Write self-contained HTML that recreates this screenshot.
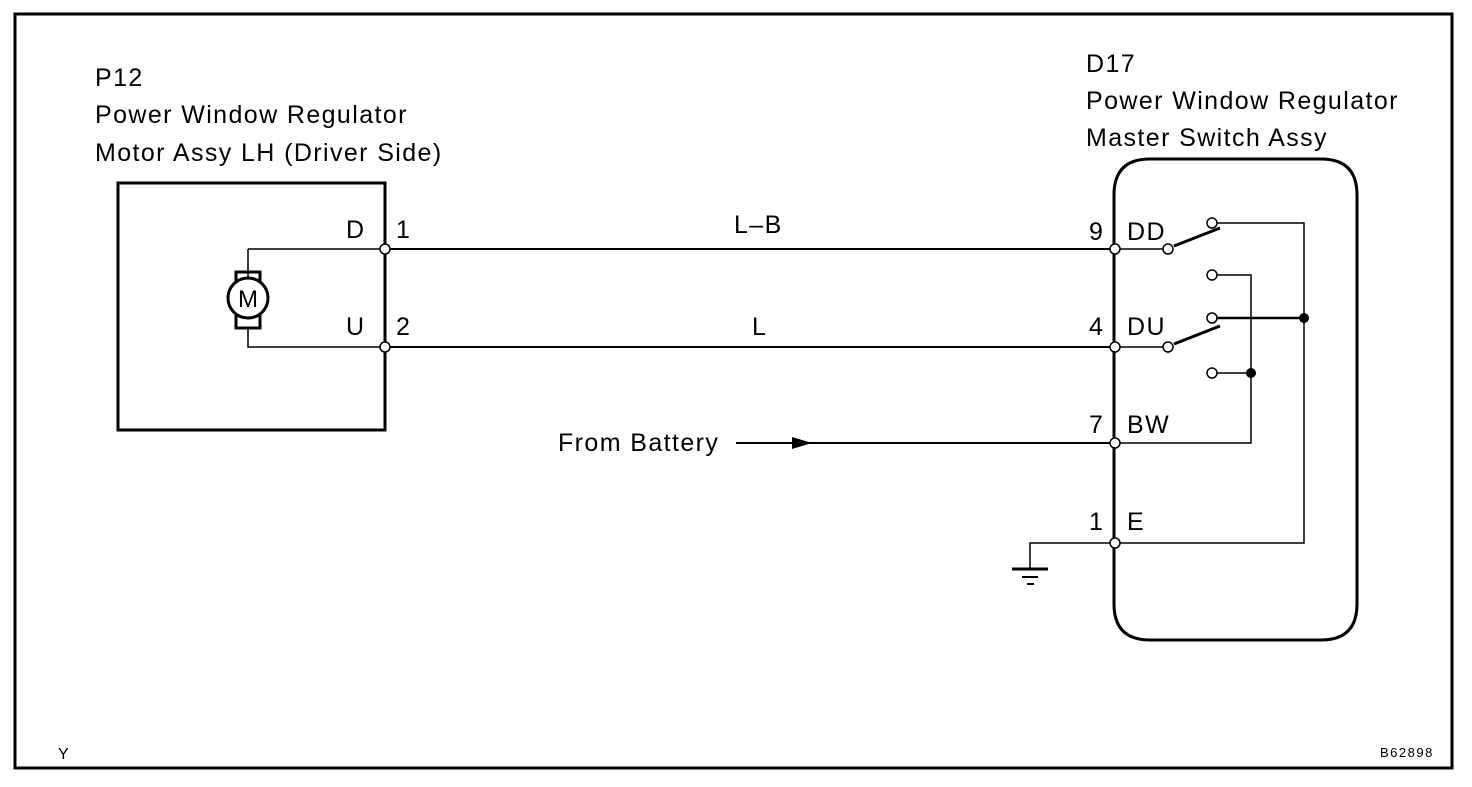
<!DOCTYPE html>
<html><head><style>body{margin:0;background:#fff}svg text{font-family:"Liberation Sans",Arial,sans-serif;fill:#000}</style></head><body>
<svg width="1472" height="782" viewBox="0 0 1472 782" xmlns="http://www.w3.org/2000/svg">
<rect x="15" y="14" width="1437" height="754" fill="none" stroke="#000" stroke-width="3"/>
<g font-size="25" letter-spacing="1.4">
<text x="95" y="86">P12</text>
<text x="95" y="123">Power Window Regulator</text>
<text x="95" y="161">Motor Assy LH (Driver Side)</text>
<text x="1086" y="72">D17</text>
<text x="1086" y="109">Power Window Regulator</text>
<text x="1086" y="146">Master Switch Assy</text>
<text x="346" y="238">D</text><text x="396" y="238">1</text>
<text x="346" y="335">U</text><text x="396" y="335">2</text>
<text x="734" y="233">L–B</text>
<text x="752" y="335">L</text>
<text x="1089" y="240">9</text><text x="1127" y="240">DD</text>
<text x="1089" y="335">4</text><text x="1127" y="335">DU</text>
<text x="1089" y="433">7</text><text x="1127" y="433">BW</text>
<text x="1089" y="530">1</text><text x="1127" y="530">E</text>
<text x="558" y="451">From Battery</text>
</g>
<text x="58" y="759" font-size="16">Y</text>
<text x="1380" y="757" font-size="13" letter-spacing="1.5">B62898</text>
<g fill="none" stroke="#000">
<rect x="118" y="183" width="267" height="247" stroke-width="3"/>
<path d="M1114 600 V195 Q1114 159 1150 159 H1321 Q1357 159 1357 195 V604 Q1357 640 1321 640 H1150 Q1114 640 1114 604 Z" stroke-width="3"/>
<path d="M248 249 H385 M248 249 V278 M248 328 V347 H385" stroke-width="1.5"/>
<rect x="236" y="272" width="24" height="56" stroke-width="3"/>
<path d="M385 249 H1115 M385 347 H1115 M736 443 H1115" stroke-width="2"/>
<path d="M1115 249 H1168 M1115 347 H1168" stroke-width="1.5"/>
<path d="M1174 246 L1220 228 M1174 344 L1220 326" stroke-width="3"/>
<path d="M1215 223 H1304 V543 H1115 M1215 275 H1251 V443 H1115 M1215 373 H1251" stroke-width="1.5"/>
<path d="M1215 318 H1304" stroke-width="2.5"/>
<path d="M1115 543 H1030 V569" stroke-width="1.5"/>
<path d="M1012 569 H1048" stroke-width="3"/>
<path d="M1022 577 H1038 M1027 584 H1034" stroke-width="2"/>
</g>
<circle cx="248" cy="298" r="20" fill="#fff" stroke="#000" stroke-width="3"/>
<text x="248" y="307" font-size="24" text-anchor="middle">M</text>
<path d="M792 437 L812 443 L792 449 Z" fill="#000"/>
<g fill="#fff" stroke="#000" stroke-width="1.5">
<circle cx="385" cy="249" r="5"/><circle cx="385" cy="347" r="5"/>
<circle cx="1115" cy="249" r="5"/><circle cx="1115" cy="347" r="5"/>
<circle cx="1115" cy="443" r="5"/><circle cx="1115" cy="543" r="5"/>
<circle cx="1168" cy="249" r="5"/><circle cx="1168" cy="347" r="5"/>
<circle cx="1212" cy="223" r="5"/><circle cx="1212" cy="275" r="5"/>
<circle cx="1212" cy="318" r="5"/><circle cx="1212" cy="373" r="5"/>
</g>
<circle cx="1304" cy="318" r="5" fill="#000"/>
<circle cx="1251" cy="373" r="5" fill="#000"/>
</svg>
</body></html>
